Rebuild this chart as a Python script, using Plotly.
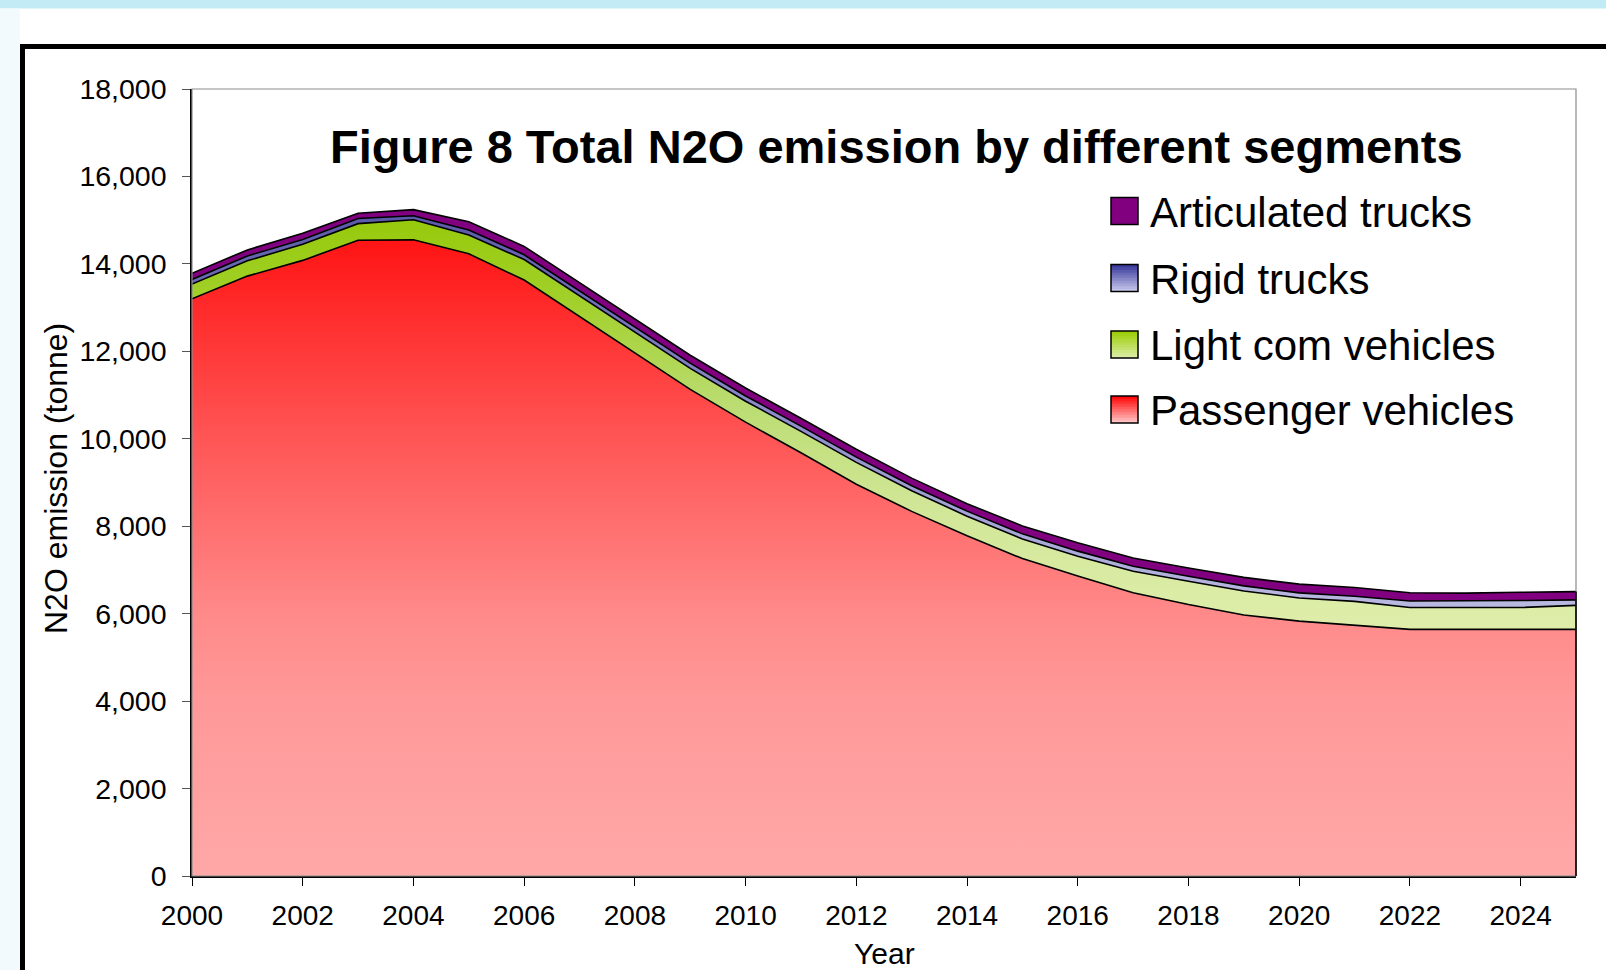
import plotly.graph_objects as go

# N2O emission (tonne) by vehicle segment
years = list(range(2000, 2026))
passenger = [13200, 13720, 14080, 14540, 14550, 14230, 13630, 12800, 11960, 11130,
             10380, 9680, 8960, 8340, 7780, 7260, 6860, 6480, 6210, 5970,
             5830, 5740, 5640, 5640, 5640, 5640]
light_com = [340, 350, 370, 380, 460, 430, 470, 470, 480, 480,
             480, 490, 500, 470, 450, 450, 455, 490, 530, 550,
             530, 540, 500, 500, 500, 550]
rigid = [105, 110, 110, 120, 90, 115, 110, 115, 120, 120,
         120, 120, 120, 115, 115, 115, 115, 115, 115, 115,
         115, 120, 150, 150, 160, 125]
articulated = [140, 140, 140, 120, 140, 190, 190, 190, 180, 180,
               180, 180, 180, 175, 170, 180, 190, 190, 190, 195,
               200, 200, 190, 180, 190, 190]

series_names = ["Passenger vehicles", "Light com vehicles", "Rigid trucks", "Articulated trucks"]
y_ticks = list(range(0, 18001, 2000))
x_ticks = list(range(2000, 2025, 2))

FONT = "Arial, Liberation Sans, sans-serif"
W, H = 1606, 970
L, R, T, B = 192, 30, 89, 94


def px2x(px):
    return (px - L) / (W - L - R)


def px2y(py):
    return (H - B - py) / (H - T - B)


fig = go.Figure()

gradients = {
    "Passenger vehicles": dict(type="vertical", start=0, stop=14550,
                               colorscale=[[0, "#FFA8A8"], [0.28, "#FF9898"], [0.41, "#FF8A8A"],
                                           [0.69, "#FF5555"], [1, "#FF1414"]]),
    "Light com vehicles": dict(type="vertical", start=5800, stop=15000,
                               colorscale=[[0, "#DEEEAA"], [0.3, "#D0E696"], [0.55, "#BADC70"],
                                           [0.8, "#A2D02A"], [1, "#96CA0C"]]),
    "Rigid trucks": dict(type="vertical", start=6200, stop=15100,
                         colorscale=[[0, "#B8B8E0"], [0.5, "#8C8CC8"], [1, "#5A5AAA"]]),
}

for name, vals in zip(series_names, [passenger, light_com, rigid, articulated]):
    kw = dict(x=years, y=vals, name=name, mode="lines", stackgroup="one",
              line=dict(color="black", width=1.6), showlegend=False, hoverinfo="x+y+name")
    if name in gradients:
        kw["fillgradient"] = gradients[name]
    else:
        kw["fillcolor"] = "#800080"
    fig.add_trace(go.Scatter(**kw))

total_last = passenger[-1] + light_com[-1] + rigid[-1] + articulated[-1]

shapes = [
    # light blue band on top of the page
    dict(type="rect", xref="paper", yref="paper", x0=px2x(-5), x1=px2x(W + 5),
         y0=px2y(8.5), y1=px2y(-5), fillcolor="#C2EBF5", line=dict(width=0), layer="below"),
    # pale strip left of the frame
    dict(type="rect", xref="paper", yref="paper", x0=px2x(-5), x1=px2x(20),
         y0=px2y(H + 5), y1=px2y(8.5), fillcolor="#F3FAFD", line=dict(width=0), layer="below"),
    # black chart frame running off the page
    dict(type="rect", xref="paper", yref="paper", x0=px2x(22.5), x1=px2x(W + 40),
         y0=px2y(H + 40), y1=px2y(46.5), line=dict(color="black", width=5), layer="below"),
    # plot area border
    dict(type="rect", xref="paper", yref="paper", x0=0, x1=1, y0=0, y1=1,
         line=dict(color="#8C8C8C", width=1.2), layer="above"),
    # closing edge of the stacked areas at the right
    dict(type="line", xref="paper", yref="y", x0=1, x1=1, y0=0, y1=total_last,
         line=dict(color="black", width=1.6), layer="above"),
]

# custom legend with gradient swatches
legend_items = [
    ("Articulated trucks", "#800080", "#800080", 211),
    ("Rigid trucks", "#333399", "#CCCCEE", 278),
    ("Light com vehicles", "#99CC00", "#DDEEAA", 344.5),
    ("Passenger vehicles", "#FF0000", "#FFCCCC", 409.5),
]


def mix(c1, c2, t):
    a = [int(c1[i:i + 2], 16) for i in (1, 3, 5)]
    b = [int(c2[i:i + 2], 16) for i in (1, 3, 5)]
    return "rgb({},{},{})".format(*[round(a[k] + (b[k] - a[k]) * t) for k in range(3)])


annotations = []
sw_x0, sw_x1, half = 1111, 1138, 13.5
n_strips = 10
for label, top_c, bot_c, cy in legend_items:
    # base fill first so strip seams don't show
    shapes.append(dict(type="rect", xref="paper", yref="paper",
                       x0=px2x(sw_x0), x1=px2x(sw_x1), y0=px2y(cy + half), y1=px2y(cy - half),
                       fillcolor=mix(top_c, bot_c, 0.5), line=dict(width=0), layer="above"))
    if top_c != bot_c:
        for k in range(n_strips):
            y_top = cy - half + 2 * half * k / n_strips
            y_bot = min(cy - half + 2 * half * (k + 1) / n_strips + 0.8, cy + half)
            shapes.append(dict(type="rect", xref="paper", yref="paper",
                               x0=px2x(sw_x0), x1=px2x(sw_x1), y0=px2y(y_bot), y1=px2y(y_top),
                               fillcolor=mix(top_c, bot_c, (k + 0.5) / n_strips),
                               line=dict(width=0), layer="above"))
    shapes.append(dict(type="rect", xref="paper", yref="paper",
                       x0=px2x(sw_x0), x1=px2x(sw_x1), y0=px2y(cy + half), y1=px2y(cy - half),
                       line=dict(color="black", width=1.5), layer="above"))
    annotations.append(dict(text=label, xref="paper", yref="paper", x=px2x(1148), y=px2y(cy + 1),
                            xanchor="left", yanchor="middle", showarrow=False,
                            font=dict(family=FONT, size=42, color="black")))

annotations += [
    dict(text="<b>Figure 8 Total N2O emission by different segments</b>", xref="paper", yref="paper",
         x=px2x(897), y=px2y(146), xanchor="center", yanchor="middle", showarrow=False,
         font=dict(family=FONT, size=47, color="black")),
    dict(text="N2O emission (tonne)", xref="paper", yref="paper", x=px2x(56), y=px2y(479),
         xanchor="center", yanchor="middle", textangle=-90, showarrow=False,
         font=dict(family=FONT, size=32, color="black")),
    dict(text="Year", xref="paper", yref="paper", x=px2x(884), y=px2y(953),
         xanchor="center", yanchor="middle", showarrow=False,
         font=dict(family=FONT, size=30, color="black")),
]

fig.update_layout(
    width=W, height=H,
    margin=dict(l=L, r=R, t=T, b=B, autoexpand=False),
    paper_bgcolor="white", plot_bgcolor="white",
    font=dict(family=FONT, color="black"),
    shapes=shapes, annotations=annotations,
    showlegend=False,
)
fig.update_xaxes(range=[2000, 2025], tickvals=x_ticks, showgrid=False, zeroline=False,
                 showline=True, linecolor="black", linewidth=1.5,
                 ticks="outside", ticklen=8, tickcolor="black", tickwidth=1,
                 ticklabelstandoff=6, tickfont=dict(family=FONT, size=28, color="black"))
fig.update_yaxes(range=[0, 18000], tickvals=y_ticks, tickformat=",d", showgrid=False, zeroline=False,
                 showline=True, linecolor="black", linewidth=1.5,
                 ticks="outside", ticklen=8, tickcolor="#555555", tickwidth=1,
                 ticklabelstandoff=10, tickfont=dict(family=FONT, size=28.5, color="black"))

# drop the browser's default page margin so the figure sits at the window corner
fig.write_html("out.html", config={"displayModeBar": False},
               post_script="document.body.style.margin='0px';")
